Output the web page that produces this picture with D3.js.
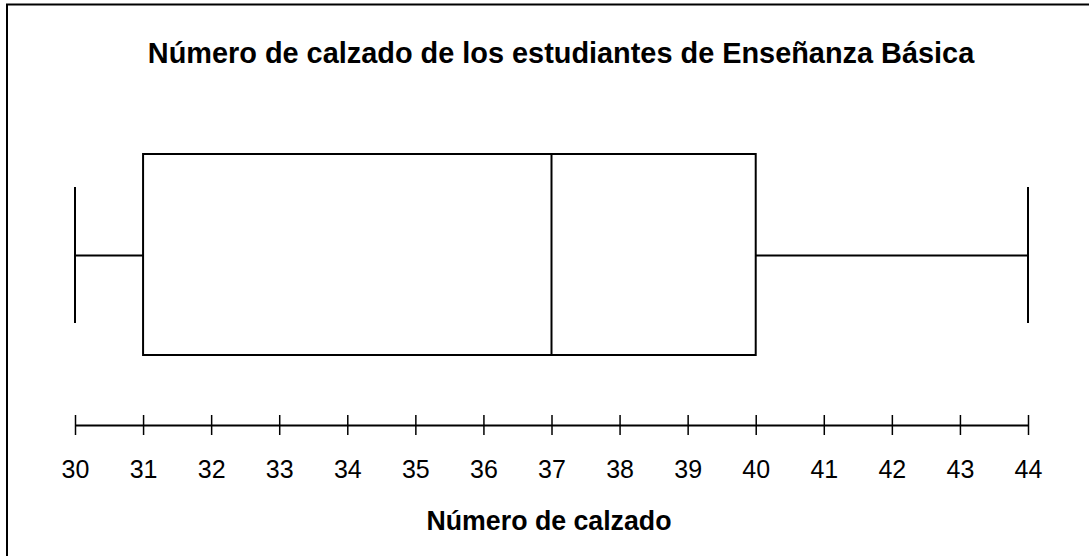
<!DOCTYPE html>
<html>
<head>
<meta charset="utf-8">
<script src="https://cdn.jsdelivr.net/npm/d3@7"></script>
<style>
  body { margin: 0; background: #fff; }
  text { font-family: "Liberation Sans", "DejaVu Sans", sans-serif; fill: #000; }
</style>
</head>
<body>
<div id="chart"></div>
<script>
// datos del diagrama de caja
var titulo = "Número de calzado de los estudiantes de Enseñanza Básica";
var tituloEje = "Número de calzado";
var resumen = [30, 31, 37, 40, 44]; // min, Q1, mediana, Q3, max
var ticks = [30, 31, 32, 33, 34, 35, 36, 37, 38, 39, 40, 41, 42, 43, 44];

var width = 1089, height = 556;

var svg = d3.select('#chart')
    .append('svg')
    .attr('width', width)
    .attr('height', height);

// marco
svg.append('rect')
    .attr('x', 7).attr('y', 4.5)
    .attr('width', 1200).attr('height', 700)
    .attr('fill', 'none')
    .attr('stroke', '#000')
    .attr('stroke-width', 2);

var x = d3.scaleLinear().domain([30, 44]).range([75, 1028]);
var yMid = 255.5;

// ajusta el tamaño de letra a un ancho dado
function fit(sel, target) {
    var w = sel.node().getComputedTextLength();
    var fs = parseFloat(sel.attr('font-size'));
    sel.attr('font-size', fs * target / w);
}

var t = svg.append('text')
    .attr('x', 561).attr('y', 63)
    .attr('text-anchor', 'middle')
    .attr('font-weight', 'bold')
    .attr('font-size', 22)
    .text(titulo);
fit(t, 827);

var g = svg.append('g').attr('stroke', '#000').attr('stroke-width', 2).attr('fill', 'none');

// bigotes
g.append('line')
    .attr('x1', x(resumen[0])).attr('x2', x(resumen[1]))
    .attr('y1', yMid).attr('y2', yMid);
g.append('line')
    .attr('x1', x(resumen[3])).attr('x2', x(resumen[4]))
    .attr('y1', yMid).attr('y2', yMid);
[resumen[0], resumen[4]].forEach(function(v) {
    g.append('line')
        .attr('x1', x(v)).attr('x2', x(v))
        .attr('y1', 187).attr('y2', 323);
});

// caja
g.append('rect')
    .attr('x', x(resumen[1])).attr('y', 154)
    .attr('width', x(resumen[3]) - x(resumen[1]))
    .attr('height', 201);
g.append('line')
    .attr('x1', x(resumen[2])).attr('x2', x(resumen[2]))
    .attr('y1', 154).attr('y2', 355);

// eje
var xAxis = d3.axisBottom(x).tickValues(ticks).tickFormat(d3.format('d')).tickSizeOuter(0).tickPadding(29);
var ax = svg.append('g')
    .attr('transform', 'translate(0,425)')
    .call(xAxis);
ax.select('.domain').attr('stroke', '#000').attr('stroke-width', 2);
ax.selectAll('.tick line').attr('y1', -10).attr('y2', 10).attr('stroke', '#000').attr('stroke-width', 1.5);
ax.selectAll('.tick text')
    .attr('font-family', '"Liberation Sans", sans-serif')
    .attr('font-size', 25)
    .attr('fill', '#000');

var t2 = svg.append('text')
    .attr('x', 549).attr('y', 530)
    .attr('text-anchor', 'middle')
    .attr('font-weight', 'bold')
    .attr('font-size', 22)
    .text(tituloEje);
fit(t2, 245);
</script>
</body>
</html>
